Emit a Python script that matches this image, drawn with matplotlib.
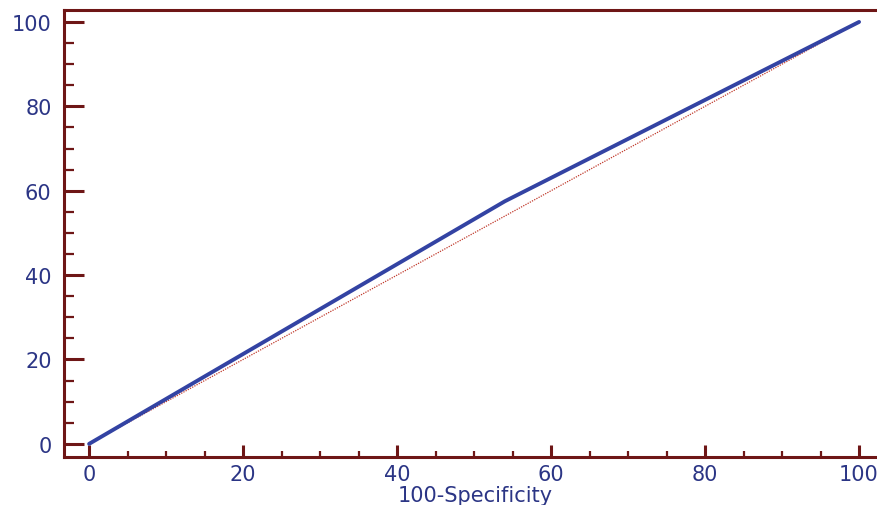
import matplotlib
matplotlib.use("Agg")
import matplotlib.pyplot as plt
from matplotlib.ticker import MultipleLocator

roc_x = [0, 54, 100]
roc_y = [0, 57.5, 100]
diag_x = [0, 100]
diag_y = [0, 100]
xticks = [0, 20, 40, 60, 80, 100]
yticks = [0, 20, 40, 60, 80, 100]

spine_c = "#6e1616"
text_c = "#2b3585"

fig = plt.figure(figsize=(8.78, 5.06), dpi=100)
ax = fig.add_axes([0.073, 0.095, 0.937, 0.883])
ax.plot(diag_x, diag_y, color="#c0392b", lw=0.9, ls=(0, (1, 1)), zorder=2)
ax.plot(roc_x, roc_y, color="#3343a3", lw=2.8, solid_capstyle="round", zorder=3)

ax.set_xlim(-3.25, 103.6)
ax.set_ylim(-3.1, 102.8)
ax.set_xticks(xticks)
ax.set_yticks(yticks)
ax.xaxis.set_minor_locator(MultipleLocator(5))
ax.yaxis.set_minor_locator(MultipleLocator(5))

for s in ["left", "bottom", "top"]:
    ax.spines[s].set_color(spine_c)
    ax.spines[s].set_linewidth(2.2)
ax.spines["right"].set_visible(False)

ax.tick_params(axis="y", which="major", direction="in", length=14.4, width=2.2, color=spine_c,
               labelcolor=text_c, labelsize=15, pad=9)
ax.tick_params(axis="y", which="minor", direction="in", length=7.2, width=1.6, color=spine_c)
ax.tick_params(axis="x", which="major", direction="in", length=8.6, width=2.2, color=spine_c,
               labelcolor=text_c, labelsize=15, pad=5)
ax.tick_params(axis="x", which="minor", direction="in", length=4.3, width=1.6, color=spine_c)

ax.set_xlabel("100-Specificity", color=text_c, fontsize=15, labelpad=1)

fig.savefig("out.png", dpi=100)
